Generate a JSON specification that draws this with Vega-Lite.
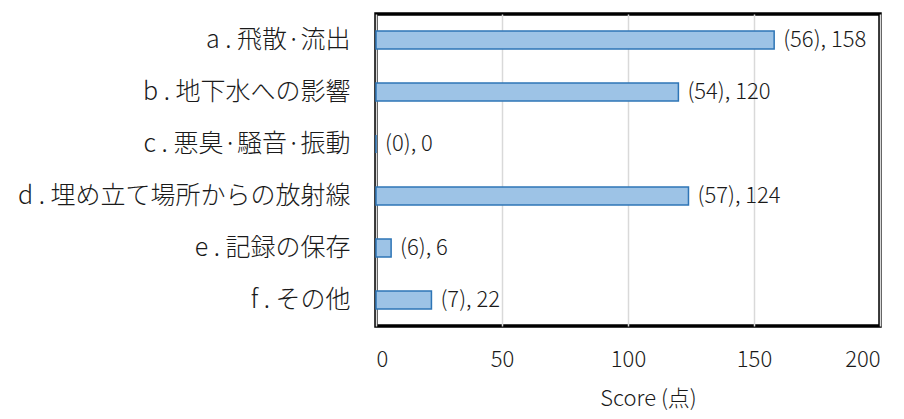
{
  "$schema": "https://vega.github.io/schema/vega-lite/v6.json",
  "width": 504,
  "height": 312,
  "autosize": {"type": "none"},
  "padding": {"left": 376, "top": 14, "right": 24, "bottom": 93},
  "background": "white",
  "config": {
    "font": "Noto Sans CJK JP",
    "view": {"stroke": "black", "strokeWidth": 3.5},
    "axis": {"labelColor": "#1a1a1a", "titleColor": "#1a1a1a", "labelFont": "Noto Sans CJK JP", "titleFont": "Noto Sans CJK JP"}
  },
  "data": {
    "values": [
      {"item": "a . 飛散·流出", "n": 56, "score": 158},
      {"item": "b . 地下水への影響", "n": 54, "score": 120},
      {"item": "c . 悪臭·騒音·振動", "n": 0, "score": 0},
      {"item": "d . 埋め立て場所からの放射線", "n": 57, "score": 124},
      {"item": "e . 記録の保存", "n": 6, "score": 6},
      {"item": "f . その他", "n": 7, "score": 22}
    ]
  },
  "transform": [
    {"calculate": "'(' + datum.n + '), ' + datum.score", "as": "label"}
  ],
  "encoding": {
    "y": {
      "field": "item",
      "type": "nominal",
      "sort": null,
      "title": null,
      "axis": {"labelFontSize": 25, "labelFontWeight": 300, "labelPadding": 26, "ticks": false, "domain": false, "labelLimit": 400}
    },
    "x": {
      "field": "score",
      "type": "quantitative",
      "scale": {"domain": [0, 200]},
      "title": "Score (点)",
      "axis": {
        "values": [0, 50, 100, 150, 200],
        "labelFontSize": 22,
        "labelFontWeight": 300,
        "labelPadding": 23,
        "titleFontSize": 22,
        "titleFontWeight": 300,
        "titlePadding": 18,
        "titleX": 272,
        "ticks": false,
        "domain": false,
        "gridColor": "#d9d9d9",
        "gridWidth": 1.5
      }
    }
  },
  "layer": [
    {
      "mark": {"type": "bar", "size": 18, "fill": "#9dc3e6", "stroke": "#2e75b6", "strokeWidth": 1.5}
    },
    {
      "mark": {"type": "text", "align": "left", "baseline": "middle", "dx": 9, "fontSize": 22, "fontWeight": 300, "color": "#1a1a1a"},
      "encoding": {"text": {"field": "label"}}
    }
  ]
}
